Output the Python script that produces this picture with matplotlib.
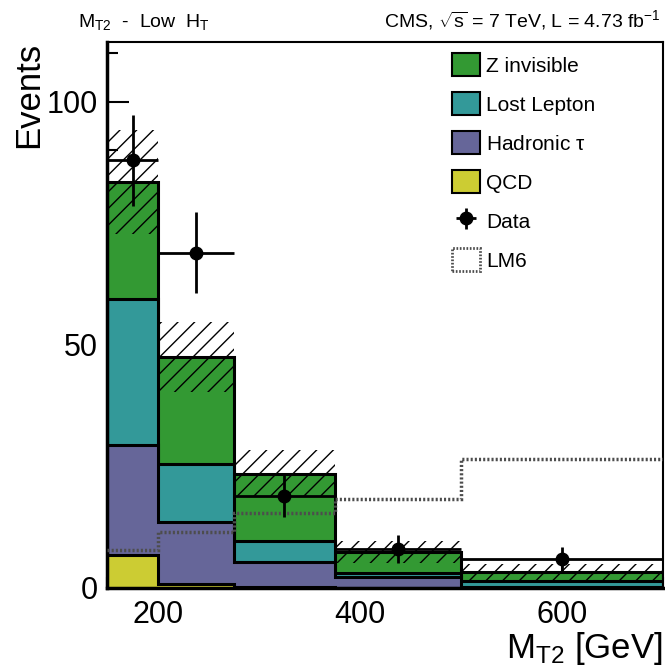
import numpy as np
import matplotlib

matplotlib.use("Agg")
import matplotlib.pyplot as plt
from matplotlib.patches import Patch
from matplotlib.ticker import MultipleLocator

# MT2 bins (GeV) for the low HT selection
bin_edges = np.array([150, 200, 275, 375, 500, 700])

# background predictions per bin
qcd = np.array([6.8, 0.8, 0.1, 0.0, 0.0])
hadronic_tau = np.array([22.6, 12.8, 5.2, 2.3, 0.3])
lost_lepton = np.array([30.1, 11.9, 4.4, 0.8, 1.2])
z_invisible = np.array([24.0, 22.0, 13.8, 4.3, 1.7])
bkg_uncertainty = np.array([10.6, 7.2, 4.8, 2.3, 1.8])

# observed events and the LM6 signal point
data = np.array([88, 69, 19, 8, 6])
lm6 = np.array([7.8, 11.5, 15.4, 18.3, 26.5])

labels = ["Z invisible", "Lost Lepton", r"Hadronic $\tau$", "QCD", "Data", "LM6"]
colors = ["#339933", "#339999", "#666699", "#cccc33"]

plt.rcParams["font.family"] = ["Liberation Sans", "DejaVu Sans"]
plt.rcParams["mathtext.fontset"] = "custom"
plt.rcParams["mathtext.rm"] = "Liberation Sans"
plt.rcParams["mathtext.it"] = "Liberation Sans"
plt.rcParams["mathtext.bf"] = "Liberation Sans:bold"
plt.rcParams["hatch.linewidth"] = 1.0

fig = plt.figure(figsize=(6.65, 6.69), dpi=100)
ax = fig.add_axes([0.1614, 0.1211, 0.8355, 0.8161])

# stacked backgrounds, drawn from the full stack down to the smallest piece
stack = [
    qcd + hadronic_tau + lost_lepton + z_invisible,
    qcd + hadronic_tau + lost_lepton,
    qcd + hadronic_tau,
    qcd,
]
for level, color in zip(stack, colors):
    ax.stairs(level, bin_edges, baseline=0, fill=True, facecolor=color,
              edgecolor="black", linewidth=2.2, zorder=2)

# hatched band for the background uncertainty
total = stack[0]
ax.stairs(total + bkg_uncertainty, bin_edges, baseline=total - bkg_uncertainty,
          fill=True, facecolor="none", edgecolor="black", linewidth=0,
          hatch="//", zorder=3)

# LM6 as a dotted outline
ax.stairs(lm6, bin_edges, baseline=None, color="0.3", linewidth=2.5,
          linestyle=(0, (0.6, 0.6)), zorder=4)

centers = 0.5 * (bin_edges[:-1] + bin_edges[1:])
half_widths = 0.5 * np.diff(bin_edges)
data_plot = ax.errorbar(centers, data, xerr=half_widths, yerr=np.sqrt(data),
                        fmt="o", color="black", markersize=9, linewidth=2,
                        capsize=0, zorder=5)

ax.set_xlim(150, 700)
ax.set_ylim(0, 112.3)
ax.xaxis.set_major_locator(MultipleLocator(200))
ax.xaxis.set_minor_locator(MultipleLocator(50))
ax.yaxis.set_major_locator(MultipleLocator(50))
ax.yaxis.set_minor_locator(MultipleLocator(10))
ax.tick_params(which="both", direction="in", width=1.5, labelsize=22)
ax.tick_params(which="major", length=16, pad=7)
ax.tick_params(which="minor", length=8)
ax.tick_params(axis="x", which="major", pad=9)

for side in ["left", "bottom"]:
    ax.spines[side].set_linewidth(2.5)
for side in ["top", "right"]:
    ax.spines[side].set_linewidth(1.5)

ax.set_ylabel("Events", fontsize=25, loc="top", labelpad=1)
ax.set_xlabel(r"$\mathrm{M}_{\mathrm{T2}}$ [GeV]", fontsize=25, loc="right",
              labelpad=0)

fig.text(78 / 665, 1 - 27 / 669,
         r"$\mathrm{M}_{\mathrm{T2}}$  -  Low  $\mathrm{H}_{\mathrm{T}}$",
         fontsize=14, ha="left", va="baseline")
fig.text(661 / 665, 1 - 27 / 669,
         r"CMS, $\sqrt{\mathrm{s}}$ = 7 TeV, L = 4.73 fb$^{-1}$",
         fontsize=14, ha="right", va="baseline")

handles = [Patch(facecolor=c, edgecolor="black", linewidth=1.5) for c in colors]
handles.append(data_plot)
handles.append(Patch(facecolor="white", edgecolor="0.3", linewidth=2,
                     linestyle=(0, (0.6, 0.6))))
ax.legend(handles, labels, loc="upper left",
          bbox_to_anchor=(452 / 665, 1 - 53 / 669),
          bbox_transform=fig.transFigure, frameon=False, fontsize=15,
          handlelength=1.35, handleheight=1.35, handletextpad=0.3,
          labelspacing=0.75, borderpad=0, borderaxespad=0)

fig.savefig("out.png", dpi=100)
